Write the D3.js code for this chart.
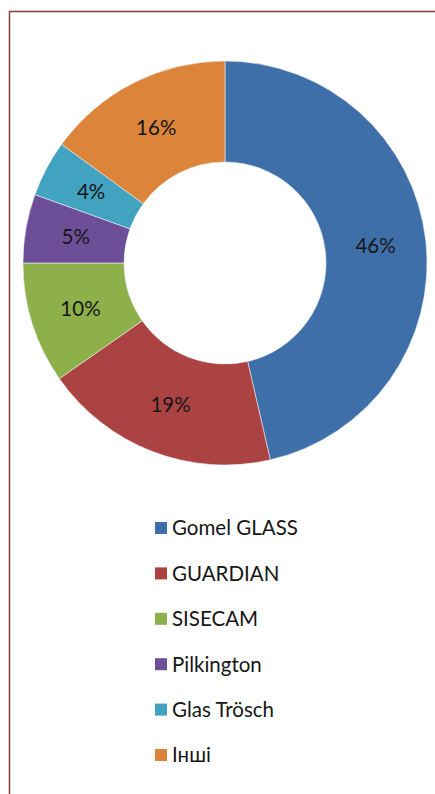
<!DOCTYPE html>
<html>
<head>
<meta charset="utf-8">
<script src="https://d3js.org/d3.v7.min.js"></script>
<style>
  html, body { margin: 0; padding: 0; background: #fff; }
  svg { display: block; }
</style>
</head>
<body>
<div id="chart"></div>
<script>
    // market shares, clockwise from 12 o'clock
    const companies = ["Gomel GLASS", "GUARDIAN", "SISECAM", "Pilkington", "Glas Trösch", "Інші"];
    const shares = [46.4, 18.9, 9.7, 5.5, 4.5, 15.0];
    const shareLabels = ["46%", "19%", "10%", "5%", "4%", "16%"];
    const colors = ["#3e6fa9", "#aa4341", "#8db04a", "#6d4f98", "#41a3bf", "#dc853a"];

    (function() {
        const width = 435, height = 794;
        const cx = 225, cy = 263;
        const outerR = 202, innerR = 101;

        const svg = d3.select("#chart").append("svg")
            .attr("width", width)
            .attr("height", height);

        // frame (only top and left edges show)
        svg.append("path")
            .attr("d", "M9.5," + height + " V11.5 H" + width)
            .attr("fill", "none")
            .attr("stroke", "#8a3b3d")
            .attr("stroke-width", 1.5);

        const data = companies.map((c, i) => ({name: c, value: shares[i], label: shareLabels[i], color: colors[i]}));

        const pie = d3.pie().value(d => d.value).sort(null);
        const arc = d3.arc().innerRadius(innerR).outerRadius(outerR);

        const g = svg.append("g").attr("transform", "translate(" + cx + "," + cy + ")");

        const slices = g.selectAll("g.slice")
            .data(pie(data))
            .enter()
            .append("g")
            .attr("class", "slice");

        slices.append("path")
            .attr("d", arc)
            .attr("fill", d => d.data.color)
            .attr("stroke", "#e8eef4")
            .attr("stroke-width", 0.6);

        slices.append("text")
            .attr("transform", d => "translate(" + arc.centroid(d) + ")")
            .attr("text-anchor", "middle")
            .attr("dy", "0.36em")
            .style("font-family", "Lato, 'Open Sans', sans-serif")
            .style("font-size", "20.5px")
            .attr("fill", "#161616")
            .text(d => d.data.label);

        // legend
        const legendY = d3.scalePoint()
            .domain(companies)
            .range([528, 755]);

        const legend = svg.selectAll("g.legend")
            .data(data)
            .enter()
            .append("g")
            .attr("class", "legend")
            .attr("transform", d => "translate(155," + legendY(d.name) + ")");

        legend.append("rect")
            .attr("x", 0)
            .attr("y", -6)
            .attr("width", 12)
            .attr("height", 12)
            .attr("fill", d => d.color);

        legend.append("text")
            .attr("x", 17)
            .attr("dy", "0.36em")
            .style("font-family", "Lato, 'Open Sans', sans-serif")
            .style("font-size", "20.5px")
            .attr("fill", "#161616")
            .text(d => d.name);
    })();
</script>
</body>
</html>
